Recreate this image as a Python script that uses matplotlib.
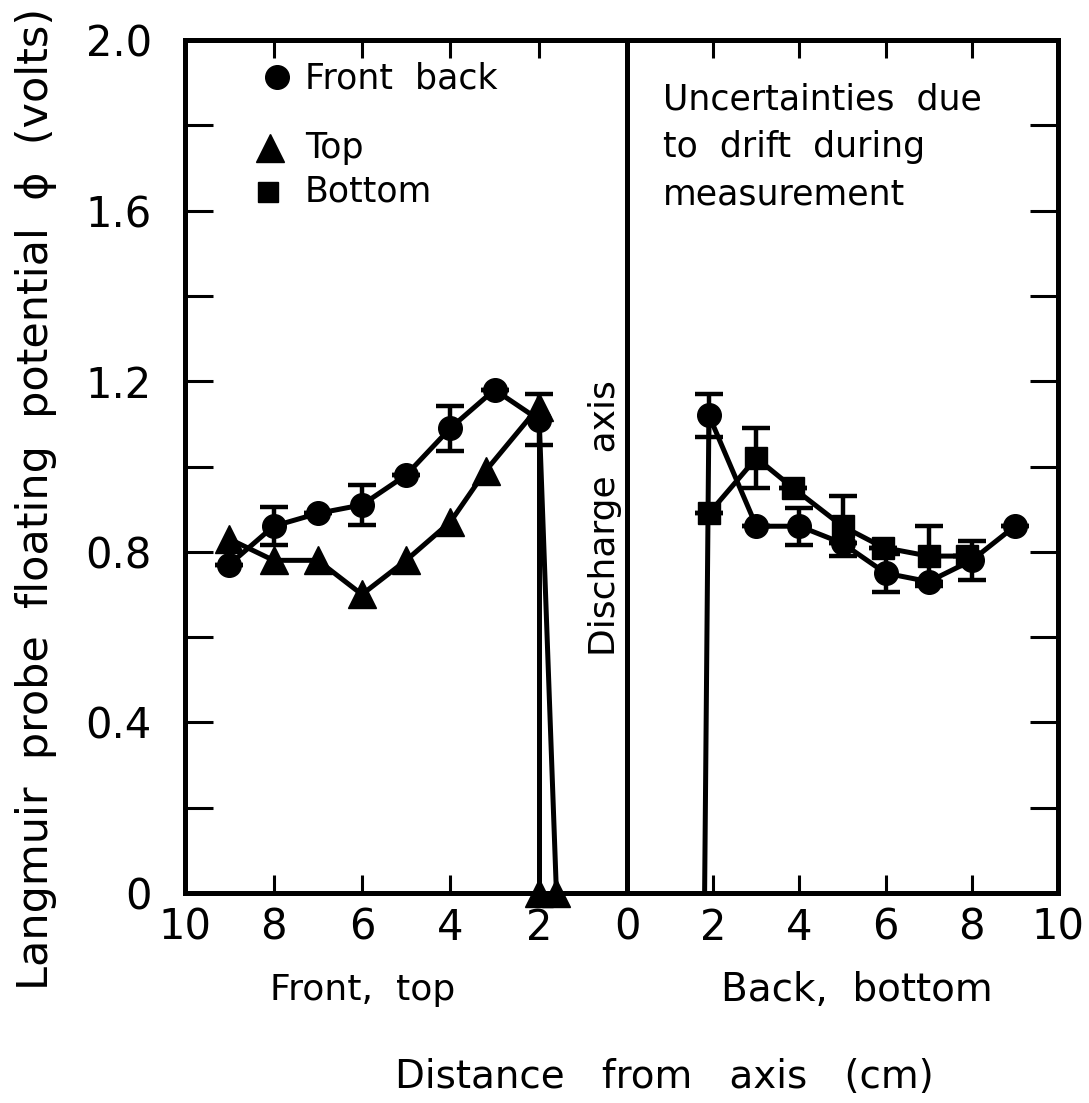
import matplotlib
matplotlib.use('Agg')
import matplotlib.pyplot as plt
from matplotlib.ticker import MultipleLocator

# Front side (left panel), distance from axis in cm
fb_front_x = [9, 8, 7, 6, 5, 4, 3, 2]
fb_front_y = [0.77, 0.86, 0.89, 0.91, 0.98, 1.09, 1.18, 1.11]
fb_front_err = [0, 0.045, 0, 0.047, 0, 0.053, 0, 0.06]

top_x = [9, 8, 7, 6, 5, 4, 3.2, 2]
top_y = [0.83, 0.78, 0.78, 0.70, 0.78, 0.87, 0.99, 1.14]

# points that fall to zero near the axis
top_zero_x = [2.0, 1.6]
top_zero_y = [0, 0]

# Back side (right panel)
fb_back_x = [1.9, 3, 4, 5, 6, 7, 8, 9]
fb_back_y = [1.12, 0.86, 0.86, 0.82, 0.75, 0.73, 0.78, 0.86]
fb_back_err = [0.05, 0, 0.043, 0, 0.045, 0, 0.045, 0]

bottom_x = [1.9, 3, 3.85, 5, 5.95, 7, 7.9]
bottom_y = [0.89, 1.02, 0.95, 0.86, 0.81, 0.79, 0.79]
bottom_err = [0, 0.07, 0, 0.07, 0, 0.07, 0]

back_zero_x = [1.8]
back_zero_y = [0]

y_tick_labels = ['0', '', '0.4', '', '0.8', '', '1.2', '', '1.6', '', '2.0']

plt.rcParams['font.family'] = 'DejaVu Sans'

fig = plt.figure(figsize=(10.89, 11.03), dpi=100)
ax_l = fig.add_axes([0.170, 0.1904, 0.4059, 0.7733])
ax_r = fig.add_axes([0.5758, 0.1904, 0.3957, 0.7733], sharey=ax_l)

lw = 3.6
mk = dict(color='black', lw=lw, mec='black', mfc='black')
eb = dict(capsize=10, capthick=3.2, elinewidth=3.2)

# left panel
ax_l.errorbar(fb_front_x, fb_front_y, yerr=fb_front_err, fmt='o-', ms=17, **eb, **mk)
ax_l.plot(top_x, top_y, '^-', ms=20, **mk)
ax_l.plot([fb_front_x[-1], top_zero_x[0]], [fb_front_y[-1], top_zero_y[0]],
          color='black', lw=lw)
ax_l.plot([top_x[-1], top_zero_x[1]], [top_y[-1], top_zero_y[1]],
          color='black', lw=lw)
ax_l.plot(top_zero_x, top_zero_y, '^', ms=20, color='black', clip_on=False)

# right panel
ax_r.errorbar(fb_back_x, fb_back_y, yerr=fb_back_err, fmt='o-', ms=17, **eb, **mk)
ax_r.errorbar(bottom_x, bottom_y, yerr=bottom_err, fmt='s-', ms=16, **eb, **mk)
ax_r.plot([back_zero_x[0], fb_back_x[0]], [back_zero_y[0], fb_back_y[0]],
          color='black', lw=lw)

ax_l.set_xlim(10, 0)
ax_r.set_xlim(0, 10)
ax_l.set_ylim(0, 2.0)

for ax in (ax_l, ax_r):
    for s in ax.spines.values():
        s.set_linewidth(3.6)
    ax.tick_params(axis='x', direction='in', length=13, width=2.2,
                   top=True, bottom=True, labelsize=30, pad=10)
    ax.yaxis.set_major_locator(MultipleLocator(0.2))
    ax.tick_params(axis='y', direction='in', length=20, width=2.2,
                   labelsize=30, pad=24)

ax_l.set_xticks([0, 2, 4, 6, 8, 10])
ax_l.set_xticklabels(['0', '2', '4', '6', '8', '10'])
ax_r.set_xticks([2, 4, 6, 8, 10])
ax_r.set_xticklabels(['2', '4', '6', '8', '10'])

ax_l.set_yticks([i * 0.2 for i in range(11)])
ax_l.set_yticklabels(y_tick_labels)
ax_l.tick_params(axis='y', left=True, right=False)
ax_r.tick_params(axis='y', left=False, right=True, labelleft=False)

# legend keys drawn by hand
ax_l.plot([0.208], [0.957], 'o', ms=17, color='black', transform=ax_l.transAxes)
ax_l.plot([0.192], [0.874], '^', ms=20, color='black', transform=ax_l.transAxes)
ax_l.plot([0.188], [0.822], 's', ms=15, color='black', transform=ax_l.transAxes)
ax_l.text(0.271, 0.955, 'Front  back', fontsize=25, va='center', transform=ax_l.transAxes)
ax_l.text(0.271, 0.874, 'Top', fontsize=25, va='center', transform=ax_l.transAxes)
ax_l.text(0.271, 0.822, 'Bottom', fontsize=25, va='center', transform=ax_l.transAxes)

ax_r.text(0.083, 0.95, 'Uncertainties  due\nto  drift  during\nmeasurement',
          fontsize=25, va='top', linespacing=1.5, transform=ax_r.transAxes)
ax_l.text(0.95, 0.44, 'Discharge  axis', fontsize=26, rotation=90,
          ha='center', va='center', transform=ax_l.transAxes)

fig.text(0.333, 0.1025, 'Front,  top', fontsize=26, ha='center', va='center')
fig.text(0.787, 0.1025, 'Back,  bottom', fontsize=28, ha='center', va='center')
fig.text(0.61, 0.0236, 'Distance   from   axis   (cm)', fontsize=28,
         ha='center', va='center')
fig.text(0.033, 0.548, 'Langmuir  probe  floating  potential  \u03d5  (volts)',
         fontsize=31, rotation=90, ha='center', va='center')

fig.savefig('out.png', dpi=100)
